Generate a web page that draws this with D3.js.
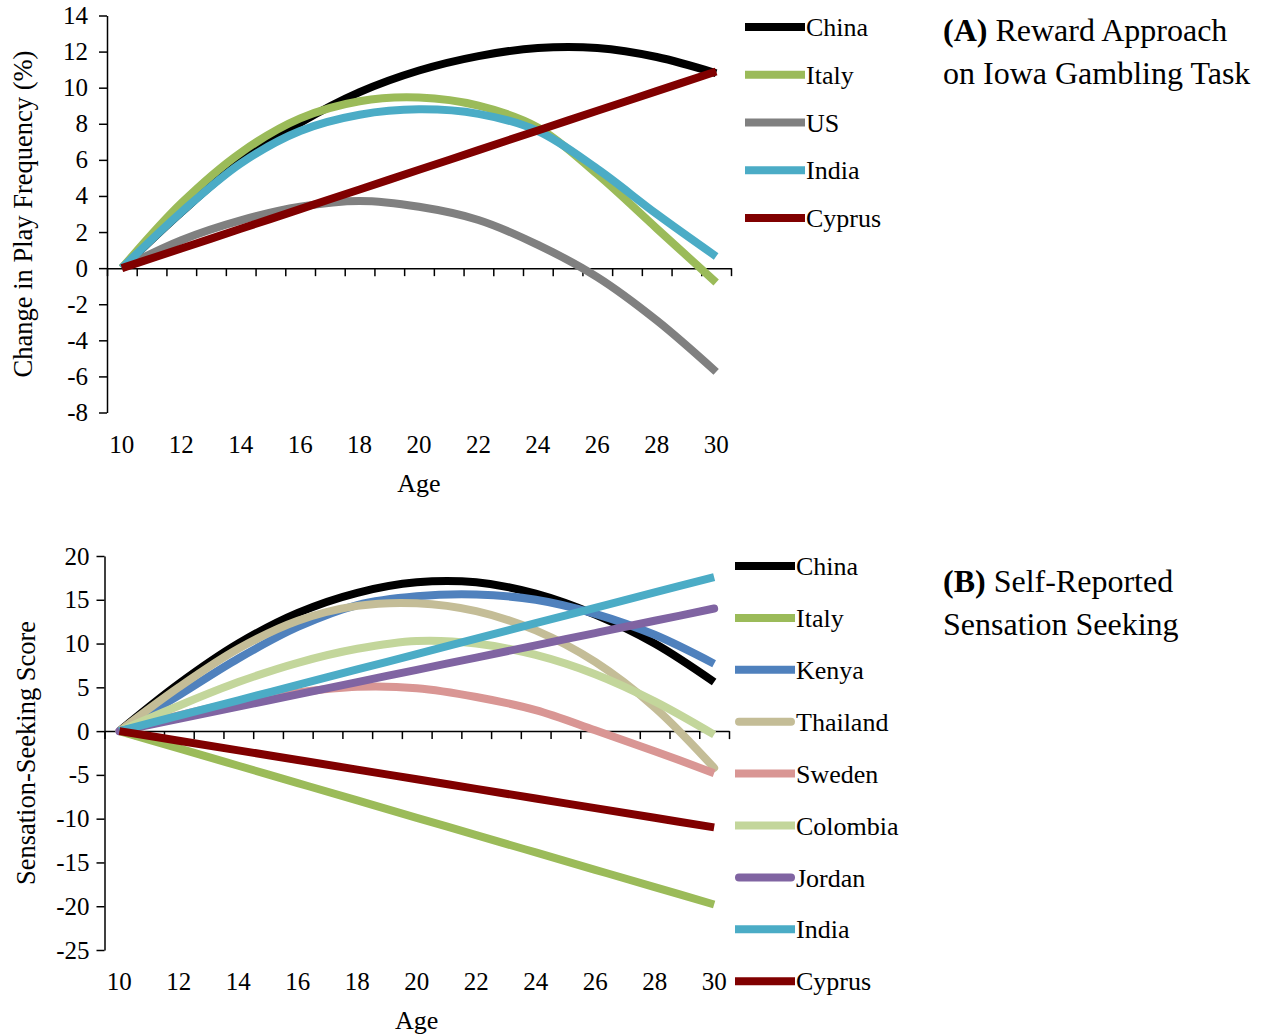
<!DOCTYPE html>
<html>
<head>
<meta http-equiv='Content-Type' content='text/html;charset=utf-8'/>
<title>Age trends</title>
<script src='https://d3js.org/d3.v7.min.js'></script>
<style>
	body { margin: 0; background: #ffffff; }
	svg text { font-family: 'Liberation Serif', 'Times New Roman', serif; fill: #000000; }
</style>
</head>
<body>
<script>
'use strict'
// ages are plotted as categories 10..30, values read at every second year
const categories = [10, 11, 12, 13, 14, 15, 16, 17, 18, 19, 20, 21, 22, 23, 24, 25, 26, 27, 28, 29, 30]
const ages = [10, 12, 14, 16, 18, 20, 22, 24, 26, 28, 30]
const ageLabels = [10, 12, 14, 16, 18, 20, 22, 24, 26, 28, 30]

// (A) Reward approach, change in play frequency (%)
const rewardSeries = ['China', 'Italy', 'US', 'India', 'Cyprus']
const rewardChina = [0, 3.1, 5.9, 8.05, 9.75, 10.95, 11.75, 12.2, 12.2, 11.7, 10.8]
const rewardItaly = [0, 3.6, 6.4, 8.3, 9.25, 9.45, 9.0, 7.8, 5.2, 2.2, -0.8]
const rewardUS = [0, 1.55, 2.65, 3.4, 3.72, 3.4, 2.67, 1.29, -0.5, -2.9, -5.75]
const rewardIndia = [0, 3.1, 5.8, 7.6, 8.5, 8.8, 8.55, 7.6, 5.5, 3.0, 0.65]
const rewardCyprus = [0, 1.09, 2.18, 3.27, 4.36, 5.45, 6.54, 7.63, 8.72, 9.81, 10.9]
const rewardTicksY = [-8, -6, -4, -2, 0, 2, 4, 6, 8, 10, 12, 14]

// (B) Self-reported sensation seeking score
const sensationSeries = ['China', 'Italy', 'Kenya', 'Thailand', 'Sweden', 'Colombia', 'Jordan', 'India', 'Cyprus']
const sensationChina = [0, 5.4, 10.0, 13.5, 15.8, 17.0, 17.0, 15.7, 13.3, 10.0, 5.6]
const sensationItaly = [0, -1.98, -3.96, -5.94, -7.92, -9.9, -11.88, -13.86, -15.84, -17.82, -19.8]
const sensationKenya = [0, 4.1, 8.3, 11.9, 14.4, 15.4, 15.6, 15.0, 13.4, 11.0, 7.7]
const sensationThailand = [0, 5.0, 9.4, 12.6, 14.3, 14.6, 13.7, 11.5, 7.9, 2.7, -4.2]
const sensationSweden = [0, 1.8, 3.3, 4.4, 5.06, 4.9, 3.9, 2.4, 0.1, -2.3, -4.8]
const sensationColombia = [0, 2.9, 5.6, 7.8, 9.4, 10.3, 10.0, 8.7, 6.5, 3.4, -0.4]
const sensationJordan = [0, 1.4, 2.8, 4.2, 5.6, 7.0, 8.4, 9.8, 11.2, 12.6, 14.0]
const sensationIndia = [0, 1.76, 3.52, 5.28, 7.04, 8.8, 10.56, 12.32, 14.08, 15.84, 17.6]
const sensationCyprus = [0, -1.1, -2.2, -3.3, -4.4, -5.5, -6.6, -7.7, -8.8, -9.9, -11.0]
const sensationTicksY = [-25, -20, -15, -10, -5, 0, 5, 10, 15, 20]

const colors = {
	China: '#000000', Italy: '#9bbb59', US: '#808080', India: '#4bacc6', Cyprus: '#800000',
	Kenya: '#4f81bd', Thailand: '#c4bd97', Sweden: '#d99694', Colombia: '#c3d69b', Jordan: '#8064a2'
}
const roundCaps = ['Thailand', 'Jordan']

const svg = d3.select('body').append('svg')
	.attr('width', 1268)
	.attr('height', 1036)

svg.append('rect')
	.attr('width', '100%')
	.attr('height', '100%')
	.attr('fill', '#ffffff')

drawPanel({
	left: 107, right: 731, top: 15.5, bottom: 412.5,
	yMin: -8, yMax: 14, yTicks: rewardTicksY, yPad: 11,
	yTitle: 'Change in Play Frequency (%)', yTitleX: 32,
	names: rewardSeries,
	values: [rewardChina, rewardItaly, rewardUS, rewardIndia, rewardCyprus],
	legendX: 745, legendY: 27, legendStep: 47.75,
	title: ['(A)', ' Reward Approach', 'on Iowa Gambling Task'], titleY: 41
})

drawPanel({
	left: 104.5, right: 729, top: 556, bottom: 950,
	yMin: -25, yMax: 20, yTicks: sensationTicksY, yPad: 7,
	yTitle: 'Sensation-Seeking Score', yTitleX: 35,
	names: sensationSeries,
	values: [sensationChina, sensationItaly, sensationKenya, sensationThailand, sensationSweden,
		sensationColombia, sensationJordan, sensationIndia, sensationCyprus],
	legendX: 735, legendY: 566, legendStep: 51.9,
	title: ['(B)', ' Self-Reported', 'Sensation Seeking'], titleY: 592
})

/**
 * drawPanel
 * One Excel-style line chart with category age axis, legend and side title.
 * @param {Object} p panel geometry and data
 */
function drawPanel(p)
{
	const g = svg.append('g')
	const x = d3.scaleBand().domain(categories).range([p.left, p.right])
	const xMid = age => x(age) + x.bandwidth() / 2
	const y = d3.scaleLinear().domain([p.yMin, p.yMax]).range([p.bottom, p.top])

	// y axis with outside ticks
	const yAxis = g.append('g')
		.attr('transform', `translate(${p.left},0)`)
		.call(d3.axisLeft(y).tickValues(p.yTicks).tickSize(8).tickSizeOuter(0)
			.tickPadding(p.yPad).tickFormat(d => String(d)))
	styleAxis(yAxis)

	// horizontal axis crosses at zero, tick marks between categories
	const edges = d3.scaleLinear().domain([0, categories.length]).range([p.left, p.right])
	const xAxis = g.append('g')
		.attr('transform', `translate(0,${y(0)})`)
		.call(d3.axisBottom(edges).tickValues(d3.range(0, categories.length + 1))
			.tickSize(8).tickSizeOuter(0).tickFormat(''))
	styleAxis(xAxis)

	// category labels sit under the plot area
	const xLabels = g.append('g')
		.attr('transform', `translate(0,${p.bottom})`)
		.call(d3.axisBottom(x).tickValues(ageLabels).tickSize(0).tickPadding(22.5))
	xLabels.select('.domain').remove()
	styleAxis(xLabels)

	g.append('text')
		.attr('x', (p.left + p.right) / 2)
		.attr('y', p.bottom + 79)
		.attr('text-anchor', 'middle')
		.attr('font-size', 26)
		.text('Age')

	g.append('text')
		.attr('transform', `translate(${p.yTitleX},${(p.top + p.bottom) / 2}) rotate(-90)`)
		.attr('text-anchor', 'middle')
		.attr('font-size', 26.5)
		.text(p.yTitle)

	const line = d3.line()
		.x((d, i) => xMid(ages[i]))
		.y(d => y(d))
		.curve(d3.curveCatmullRom.alpha(0.5))

	p.names.forEach(function(name, i)
	{
		g.append('path')
			.attr('d', line(p.values[i]))
			.attr('fill', 'none')
			.attr('stroke', colors[name])
			.attr('stroke-width', 8)
			.attr('stroke-linecap', roundCaps.includes(name) ? 'round' : 'butt')
	})

	// legend
	p.names.forEach(function(name, i)
	{
		const ly = p.legendY + i * p.legendStep
		const round = roundCaps.includes(name)
		g.append('line')
			.attr('x1', p.legendX + (round ? 4 : 0))
			.attr('x2', p.legendX + 60 - (round ? 4 : 0))
			.attr('y1', ly)
			.attr('y2', ly)
			.attr('stroke', colors[name])
			.attr('stroke-width', 8)
			.attr('stroke-linecap', round ? 'round' : 'butt')
		g.append('text')
			.attr('x', p.legendX + 61)
			.attr('y', ly)
			.attr('dy', '0.35em')
			.attr('font-size', 26)
			.text(name)
	})

	// side title
	const t = g.append('text')
		.attr('x', 943)
		.attr('y', p.titleY)
		.attr('font-size', 32)
	t.append('tspan').attr('font-weight', 'bold').text(p.title[0])
	t.append('tspan').text(p.title[1])
	g.append('text')
		.attr('x', 943)
		.attr('y', p.titleY + 43)
		.attr('font-size', 32)
		.text(p.title[2])
}

/**
 * styleAxis
 * Black serif labels and slightly heavier rules than d3 defaults.
 * @param {Selection} sel axis group
 */
function styleAxis(sel)
{
	sel.attr('font-family', null).attr('font-size', 25)
	sel.selectAll('path, line').attr('stroke', '#000000').attr('stroke-width', 1.5)
	sel.selectAll('text').attr('fill', '#000000')
}
</script>
</body>
</html>
